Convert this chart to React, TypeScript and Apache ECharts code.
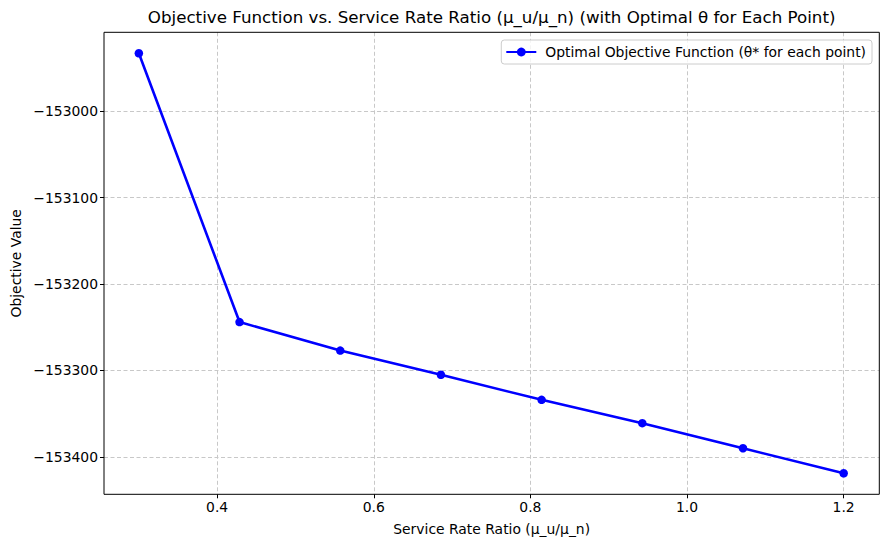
import React, { useEffect, useRef } from "react";
import * as echarts from "echarts";

const ratios = [0.3, 0.428571, 0.557143, 0.685714, 0.814286, 0.942857, 1.071429, 1.2];
const objective = [-152933, -153244, -153277, -153305, -153334, -153361, -153390, -153419];
const seriesName = "Optimal Objective Function (θ* for each point)";
const titleText = "Objective Function vs. Service Rate Ratio (μ_u/μ_n) (with Optimal θ for Each Point)";
const xTitle = "Service Rate Ratio (μ_u/μ_n)";
const yTitle = "Objective Value";

const FONT = "'DejaVu Sans', sans-serif";

export default function App() {
  const ref = useRef<HTMLDivElement>(null);
  useEffect(() => {
    if (!ref.current) return;
    const chart = echarts.init(ref.current, null, { renderer: "svg" });
    const gridL = 104, gridR = 879.3, gridT = 32.3, gridB = 494.3;
    const grid = "#c8c8c8";
    chart.setOption({
      animation: false,
      backgroundColor: "#ffffff",
      grid: {
        left: gridL,
        right: 888 - gridR,
        top: gridT,
        bottom: 547 - gridB,
        show: false,
      },
      xAxis: {
        type: "value",
        min: 0.2555,
        max: 1.2455,
        splitNumber: 5,
        axisLine: { show: false },
        axisTick: { show: true, inside: false, length: 4, lineStyle: { color: "#000", width: 1 } },
        axisLabel: {
          color: "#000",
          fontFamily: FONT,
          fontSize: 13.9,
          margin: 6,
          showMinLabel: false,
          showMaxLabel: false,
          formatter: (v: number) => {
            const r = Math.round(v * 10);
            return Math.abs(v * 10 - r) < 1e-6 && r % 2 === 0 ? v.toFixed(1) : "";
          },
        },
        splitLine: {
          show: true,
          showMinLine: false,
          showMaxLine: false,
          lineStyle: { color: grid, width: 1, type: [4, 2.5] },
        },
      },
      yAxis: {
        type: "value",
        min: -153443.3,
        max: -152908.7,
        splitNumber: 5,
        axisLine: { show: false },
        axisTick: { show: true, inside: false, length: 4, lineStyle: { color: "#000", width: 1 } },
        axisLabel: {
          color: "#000",
          fontFamily: FONT,
          fontSize: 13.9,
          margin: 6,
          showMinLabel: false,
          showMaxLabel: false,
          formatter: (v: number) => {
            const r = Math.round(v);
            return Math.abs(v - r) < 1e-6 && r % 100 === 0 ? "\u2212" + Math.abs(r) : "";
          },
        },
        splitLine: {
          show: true,
          showMinLine: false,
          showMaxLine: false,
          lineStyle: { color: grid, width: 1, type: [4, 2.5] },
        },
      },
      legend: {
        show: true,
        right: 16,
        top: 40,
        orient: "horizontal",
        itemWidth: 30,
        itemHeight: 11,
        padding: [5, 6, 5, 4],
        borderColor: "#cccccc",
        borderWidth: 1,
        borderRadius: 3,
        backgroundColor: "rgba(255,255,255,0.8)",
        textStyle: { color: "#000", fontFamily: FONT, fontSize: 13.9, padding: [0, 0, 0, 4] },
        data: [{ name: seriesName }],
      },
      series: [
        {
          name: seriesName,
          type: "line",
          data: ratios.map((x, i) => [x, objective[i]]),
          symbol: "circle",
          symbolSize: 8.5,
          showSymbol: true,
          lineStyle: { color: "#0000ff", width: 2.6 },
          itemStyle: { color: "#0000ff" },
          z: 3,
        },
      ],
      graphic: [
        {
          type: "rect",
          z: 100,
          silent: true,
          shape: { x: gridL, y: gridT, width: gridR - gridL, height: gridB - gridT },
          style: { fill: "none", stroke: "#000", lineWidth: 1 },
        },
        {
          type: "text",
          x: (gridL + gridR) / 2,
          y: 17,
          style: {
            text: titleText,
            fill: "#000",
            font: `16.7px ${FONT}`,
            textAlign: "center",
            textVerticalAlign: "middle",
          },
        },
        {
          type: "text",
          x: (gridL + gridR) / 2,
          y: 529,
          style: {
            text: xTitle,
            fill: "#000",
            font: `13.9px ${FONT}`,
            textAlign: "center",
            textVerticalAlign: "middle",
          },
        },
        {
          type: "text",
          x: 16,
          y: (gridT + gridB) / 2,
          rotation: Math.PI / 2,
          style: {
            text: yTitle,
            fill: "#000",
            font: `13.9px ${FONT}`,
            textAlign: "center",
            textVerticalAlign: "middle",
          },
        },
      ],
    });
    return () => chart.dispose();
  }, []);
  return (
    <div
      ref={ref}
      style={{ position: "fixed", left: 0, top: 0, width: 888, height: 547 }}
    />
  );
}
